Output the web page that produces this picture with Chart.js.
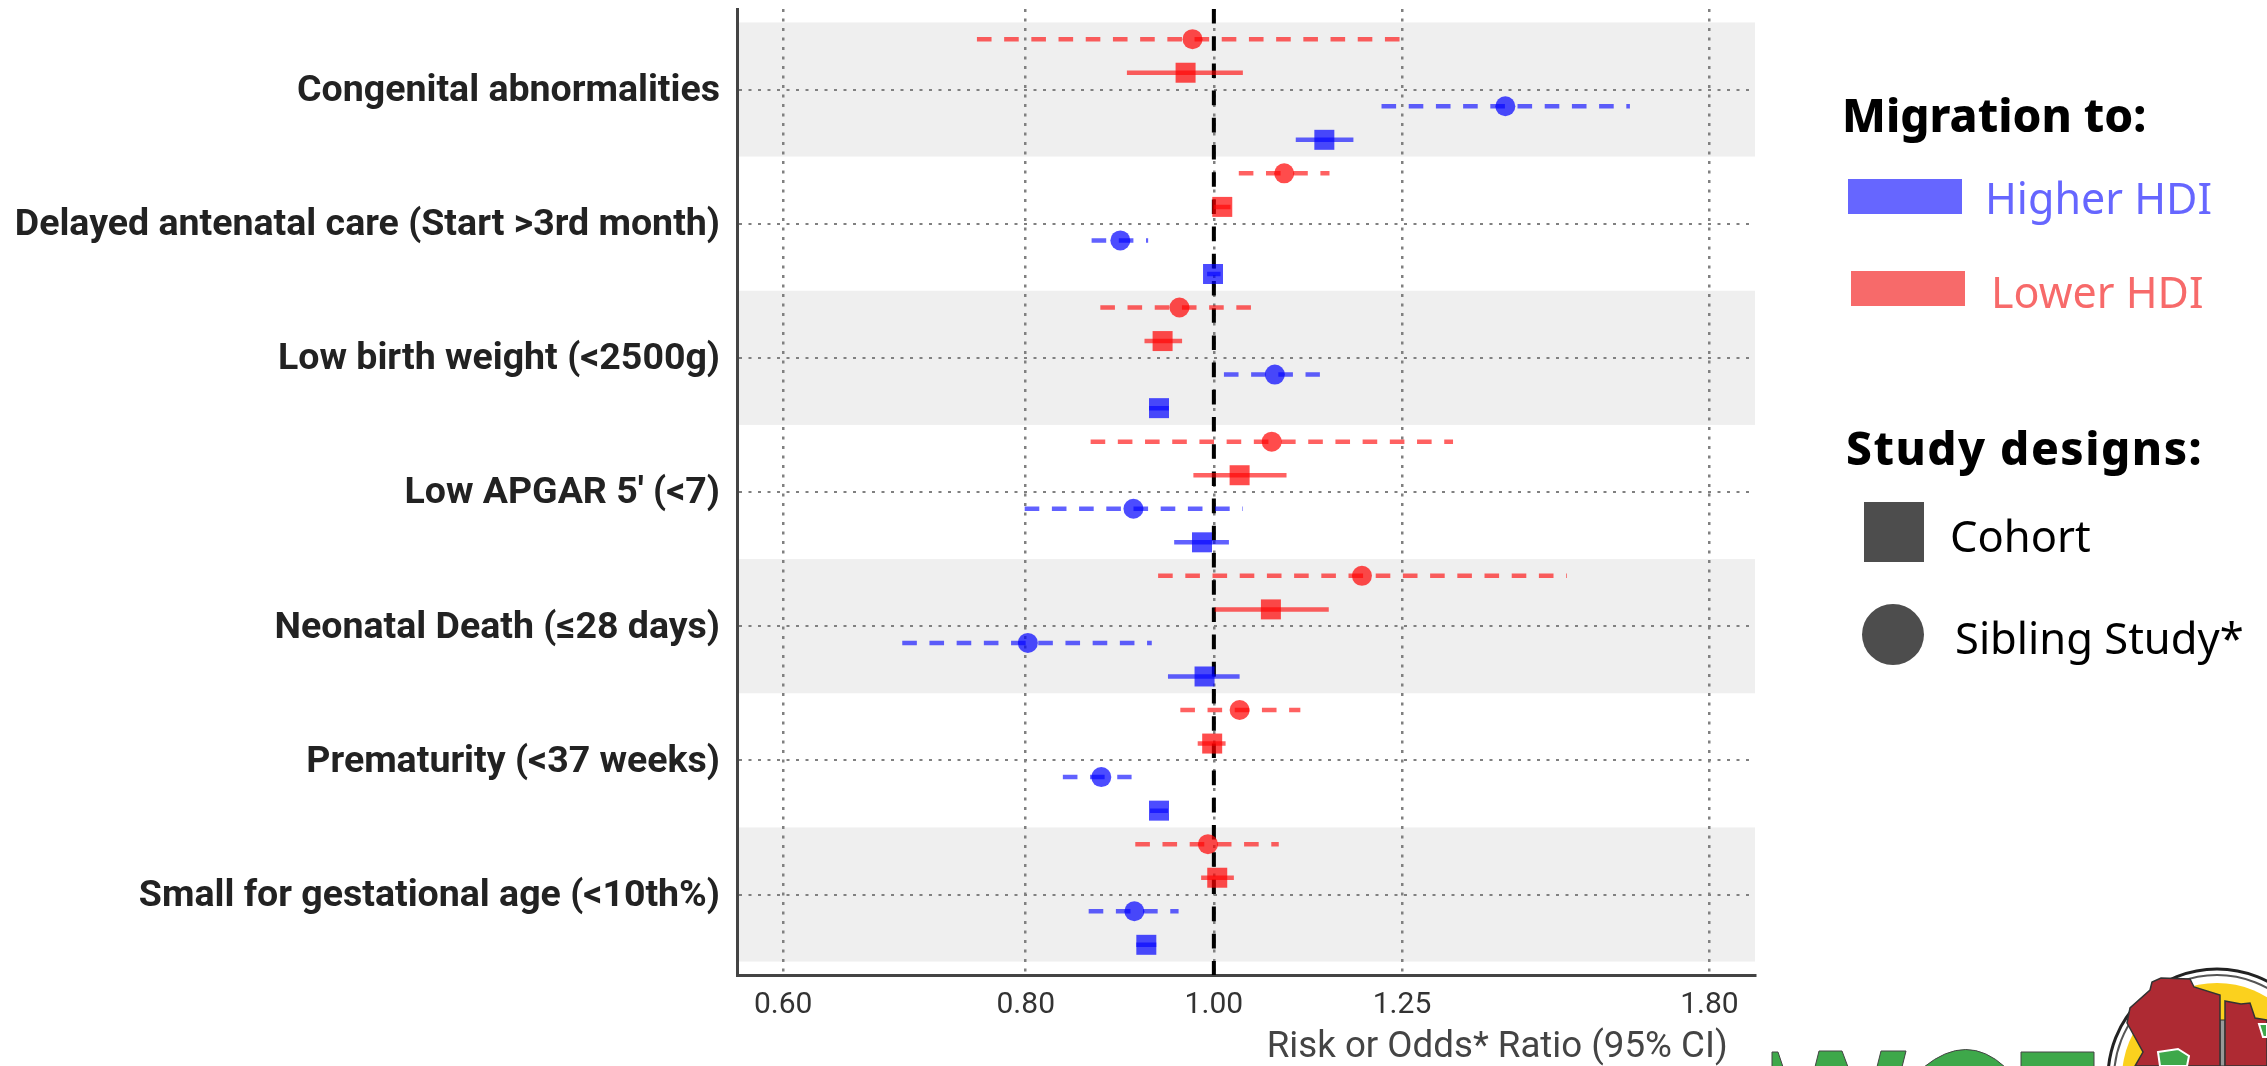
<!DOCTYPE html>
<html>
<head>
<meta charset="utf-8">
<title>Risk or Odds Ratio forest plot</title>
<script src="https://cdn.jsdelivr.net/npm/chart.js@4"></script>
<style>
  html, body { margin: 0; padding: 0; background: #fff; }
  #wrap { position: relative; width: 2267px; height: 1066px; overflow: hidden; }
  canvas { position: absolute; left: 0; top: 0; }
  .lg { position: absolute; white-space: nowrap; font-family: "Noto Sans", sans-serif; line-height: 1; transform: translateY(-50%); font-size: 43.5px; }
  .lg.head { font-weight: 800; color: #000; font-size: 46px; }
  .box { position: absolute; }
  svg { position: absolute; left: 0; top: 0; }
</style>
</head>
<body>
<div id="wrap">
  <canvas id="forest" width="2267" height="1066"></canvas>

  <div class="lg head" style="left:1842px;top:114px">Migration to:</div>
  <div class="box" style="left:1848px;top:179px;width:114px;height:35px;background:#6666FF"></div>
  <div class="lg" style="left:1985px;top:197px;font-size:43px;color:#6666FF">Higher HDI</div>
  <div class="box" style="left:1851px;top:271px;width:114px;height:35px;background:#F76A6A"></div>
  <div class="lg" style="left:1991px;top:291px;font-size:43px;color:#F76A6A">Lower HDI</div>
  <div class="lg head" style="left:1846px;top:447px;letter-spacing:1.5px">Study designs:</div>
  <div class="box" style="left:1864px;top:502px;width:60px;height:60px;background:#4D4D4D"></div>
  <div class="lg" style="left:1950px;top:536px;color:#000">Cohort</div>
  <div class="box" style="left:1862px;top:604px;width:62px;height:61px;border-radius:50%;background:#4D4D4D"></div>
  <div class="lg" style="left:1955px;top:638px;color:#000">Sibling Study*</div>

  <!-- cropped logo at the bottom edge of the slide -->
  <svg width="2267" height="1066">
    <g fill="#3EA84A" stroke="#444" stroke-width="1">
      <polygon points="1772,1052 1778,1052 1783,1067 1772,1067"/>
      <polygon points="1819,1051 1842,1051 1848,1067 1815,1067"/>
      <polygon points="1881,1051 1906,1051 1902,1067 1877,1067"/>
      <path d="M1924,1067 Q1967,1032 2005,1067 Z"/>
      <polygon points="2021,1052 2094,1052 2094,1067 2021,1067"/>
    </g>
    <circle cx="2217" cy="1078" r="109" fill="none" stroke="#222" stroke-width="3"/>
    <circle cx="2217" cy="1078" r="103" fill="none" stroke="#555" stroke-width="2"/>
    <circle cx="2217" cy="1078" r="95" fill="#FBD11E"/>
    <rect x="2220" y="1020" width="5" height="46" fill="#999" stroke="#333" stroke-width="1"/>
    <polygon fill="#AE2A33" stroke="#333" stroke-width="1.5"
      points="2161,978 2190,979 2194,987 2220,995 2220,1066 2135,1066 2143,1052 2127,1023 2130,1008 2150,990 2152,982"/>
    <polygon fill="#AE2A33" stroke="#333" stroke-width="1.5"
      points="2225,1001 2241,1004 2250,1003 2255,1018 2267,1020 2267,1066 2225,1066"/>
    <polygon fill="#3EA84A" stroke="#fff" stroke-width="2" points="2158,1052 2178,1049 2189,1056 2187,1066 2160,1066"/>
    <polygon fill="#3EA84A" stroke="#fff" stroke-width="2" points="2259,1024 2267,1024 2267,1037 2263,1037"/>
  </svg>
</div>

<script>
// outcome rows, top to bottom
const categories = [
  'Congenital abnormalities',
  'Delayed antenatal care (Start >3rd month)',
  'Low birth weight (<2500g)',
  "Low APGAR 5' (<7)",
  'Neonatal Death (≤28 days)',
  'Prematurity (<37 weeks)',
  'Small for gestational age (<10th%)'
];
const xTicks = [0.6, 0.8, 1.0, 1.25, 1.8];
const refValue = [1];

// ratios and 95% CI
const lowerSiblingEst  = [0.975, 1.087, 0.960, 1.071, 1.192, 1.031, 0.993];
const lowerSiblingLow  = [0.755, 1.030, 0.874, 0.864, 0.936, 0.961, 0.911];
const lowerSiblingHigh = [1.247, 1.147, 1.045, 1.328, 1.520, 1.108, 1.080];

const lowerCohortEst  = [0.967, 1.010, 0.941, 1.031, 1.070, 0.998, 1.004];
const lowerCohortLow  = [0.902, 1.000, 0.921, 0.976, 1.001, 0.981, 0.985];
const lowerCohortHigh = [1.035, 1.020, 0.963, 1.090, 1.146, 1.014, 1.024];

const higherSiblingEst  = [1.413, 0.895, 1.075, 0.909, 0.802, 0.875, 0.910];
const higherSiblingLow  = [1.220, 0.865, 1.012, 0.799, 0.691, 0.836, 0.862];
const higherSiblingHigh = [1.638, 0.925, 1.134, 1.035, 0.929, 0.907, 0.959];

const higherCohortEst  = [1.140, 0.999, 0.937, 0.986, 0.989, 0.937, 0.923];
const higherCohortLow  = [1.102, 0.992, 0.926, 0.954, 0.947, 0.927, 0.912];
const higherCohortHigh = [1.180, 1.008, 0.948, 1.018, 1.031, 0.947, 0.934];

const RED = 'rgba(255,0,0,0.7)';
const BLUE = 'rgba(0,0,255,0.7)';
const RED_LINE = 'rgba(255,0,0,0.62)';
const BLUE_LINE = 'rgba(0,0,255,0.62)';
const DASH = [14.6, 12.6];
const yMin = -0.6, yMax = 6.6;

function markers(label, est, off, color, style, radius) {
  return {
    label, order: 1,
    data: est.map((v, i) => ({ x: v, y: i + off })),
    pointStyle: style, pointRadius: radius, pointHoverRadius: radius,
    pointBackgroundColor: color, pointBorderWidth: 0
  };
}

// one line dataset per series, NaN breaks it between the rows
function intervals(label, low, high, off, color, dash) {
  const pts = [];
  low.forEach((v, i) => {
    pts.push({ x: v, y: i + off }, { x: high[i], y: i + off }, { x: NaN, y: NaN });
  });
  return {
    label: label + ' CI', order: 2, data: pts, showLine: true, spanGaps: false,
    borderColor: color, borderWidth: 4.5, borderDash: dash, borderCapStyle: 'butt',
    pointRadius: 0, pointHoverRadius: 0
  };
}

const datasets = [
  markers('Lower HDI, Sibling Study', lowerSiblingEst, -0.375, RED, 'circle', 10),
  markers('Lower HDI, Cohort', lowerCohortEst, -0.125, RED, 'rect', 14.14),
  markers('Higher HDI, Sibling Study', higherSiblingEst, 0.125, BLUE, 'circle', 10),
  markers('Higher HDI, Cohort', higherCohortEst, 0.375, BLUE, 'rect', 14.14),
  intervals('Lower HDI, Sibling Study', lowerSiblingLow, lowerSiblingHigh, -0.375, RED_LINE, DASH),
  intervals('Lower HDI, Cohort', lowerCohortLow, lowerCohortHigh, -0.125, RED_LINE, []),
  intervals('Higher HDI, Sibling Study', higherSiblingLow, higherSiblingHigh, 0.125, BLUE_LINE, DASH),
  intervals('Higher HDI, Cohort', higherCohortLow, higherCohortHigh, 0.375, BLUE_LINE, []),
  {
    label: 'No effect', order: 3, showLine: true,
    data: [{ x: refValue[0], y: yMin }, { x: refValue[0], y: yMax }],
    borderColor: '#000', borderWidth: 4, borderDash: DASH, pointRadius: 0, pointHoverRadius: 0
  }
];

// grey bands behind every other row
const rowBands = {
  id: 'rowBands',
  beforeDraw(chart) {
    const { ctx, chartArea, scales } = chart;
    ctx.save();
    ctx.fillStyle = '#EFEFEF';
    categories.forEach((c, i) => {
      if (i % 2) return;
      const top = scales.y.getPixelForValue(i - 0.5);
      const bottom = scales.y.getPixelForValue(i + 0.5);
      ctx.fillRect(chartArea.left, top, chartArea.right - chartArea.left, bottom - top);
    });
    ctx.restore();
  }
};

new Chart(document.getElementById('forest'), {
  type: 'scatter',
  data: { datasets },
  plugins: [rowBands],
  options: {
    responsive: false,
    animation: false,
    layout: { autoPadding: false, padding: { top: 9, right: 512, left: 0, bottom: 0 } },
    plugins: { legend: { display: false }, tooltip: { enabled: false } },
    scales: {
      x: {
        type: 'logarithmic',
        min: 0.568, max: 1.9,
        afterBuildTicks(scale) { scale.ticks = xTicks.map(v => ({ value: v })); },
        afterFit(scale) { scale.height = 91; scale.paddingLeft = 0; scale.paddingRight = 0; },
        grid: { color: '#808080', lineWidth: 2.5, drawTicks: false },
        border: { color: '#444', width: 3, dash: [3, 6.5] },
        ticks: {
          autoSkip: false, maxRotation: 0, padding: 12, color: '#333',
          font: { family: 'Roboto', size: 30 },
          callback: v => v.toFixed(2)
        },
        title: {
          display: true, align: 'end',
          text: 'Risk or Odds* Ratio (95% CI)\u00A0\u00A0\u00A0',
          color: '#444', font: { family: 'Roboto', size: 36.7, lineHeight: 1 }, padding: { top: 0, bottom: 0 }
        }
      },
      y: {
        type: 'linear',
        reverse: true,
        min: yMin, max: yMax,
        afterBuildTicks(scale) { scale.ticks = categories.map((c, i) => ({ value: i })); },
        afterFit(scale) { scale.width = 737; scale.paddingTop = 0; scale.paddingBottom = 0; },
        grid: { color: '#808080', lineWidth: 2, drawTicks: false },
        border: { color: '#444', width: 3, dash: [3, 6.5] },
        ticks: {
          autoSkip: false, padding: 17, color: '#222', labelOffset: 2,
          font: { family: 'Roboto', size: 37.5, weight: 'bold' },
          callback: v => categories[v]
        }
      }
    }
  }
});
</script>
</body>
</html>
